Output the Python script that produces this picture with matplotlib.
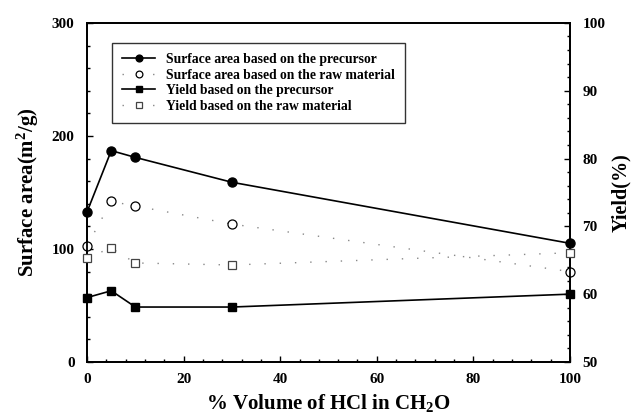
import matplotlib
matplotlib.use("Agg")
import matplotlib.pyplot as plt
from matplotlib.ticker import MultipleLocator

hcl_volume = [0, 5, 10, 30, 100]

# surface area (m2/g), left axis
area_precursor = [133, 187, 181, 159, 105]
area_raw = [103, 142, 138, 122, 80]

# yield (%), right axis
yield_precursor = [59.5, 60.5, 58.1, 58.1, 60.0]
yield_raw = [65.4, 66.8, 64.6, 64.3, 66.1]

plt.rcParams["font.family"] = ["Liberation Serif", "DejaVu Serif"]
plt.rcParams["font.weight"] = "bold"
plt.rcParams["mathtext.fontset"] = "custom"
plt.rcParams["mathtext.rm"] = "Liberation Serif:bold"
plt.rcParams["mathtext.default"] = "rm"

fig = plt.figure(figsize=(6.36, 4.17), dpi=100)
ax = fig.add_axes([0.137, 0.132, 0.759, 0.813])
ax2 = ax.twinx()

dots = dict(color="#888888", linestyle=(0, (1, 10)), linewidth=1.0)

l1, = ax.plot(hcl_volume, area_precursor, color="black", lw=1.2,
              marker="o", ms=6.5, mfc="black", clip_on=False, zorder=5)
l2, = ax.plot(hcl_volume, area_raw, marker="o", ms=6.5, mfc="white",
              mec="black", mew=0.9, clip_on=False, zorder=5, **dots)
l3, = ax2.plot(hcl_volume, yield_precursor, color="black", lw=1.2,
               marker="s", ms=6, mfc="black", clip_on=False, zorder=5)
l4, = ax2.plot(hcl_volume, yield_raw, marker="s", ms=6, mfc="white",
               mec="#444444", mew=0.9, clip_on=False, zorder=5, **dots)

ax.set_xlim(0, 100)
ax.set_ylim(0, 300)
ax2.set_ylim(50, 100)

ax.xaxis.set_major_locator(MultipleLocator(20))
ax.xaxis.set_minor_locator(MultipleLocator(4))
ax.yaxis.set_major_locator(MultipleLocator(100))
ax.yaxis.set_minor_locator(MultipleLocator(20))
ax2.yaxis.set_major_locator(MultipleLocator(10))
ax2.yaxis.set_minor_locator(MultipleLocator(2))

for a in (ax, ax2):
    a.tick_params(which="both", direction="in", labelsize=11, width=1, pad=9)
    a.tick_params(which="major", length=4)
    a.tick_params(which="minor", length=2)
    for s in a.spines.values():
        s.set_linewidth(1.3)
ax.tick_params(top=False, right=False)
ax.tick_params(axis="x", pad=8)

ax.set_xlabel("% Volume of HCl in CH$_2$O", fontsize=15, fontweight="bold", labelpad=4)
ax.set_ylabel("Surface area(m$^2$/g)", fontsize=15, fontweight="bold", labelpad=8)
ax2.set_ylabel("Yield(%)", fontsize=14.5, fontweight="bold", rotation=90, labelpad=4)

leg = ax.legend(
    [l1, l2, l3, l4],
    ["Surface area based on the precursor",
     "Surface area based on the raw material",
     "Yield based on the precursor",
     "Yield based on the raw material"],
    loc="upper left", bbox_to_anchor=(0.052, 0.942), fontsize=9.8,
    frameon=True, fancybox=False, edgecolor="black", handlelength=2.4,
    borderpad=0.75, labelspacing=0.2, markerscale=0.75, borderaxespad=0,
)
leg.get_frame().set_linewidth(1.0)
leg.set_zorder(10)

fig.savefig("out.png", dpi=100)
